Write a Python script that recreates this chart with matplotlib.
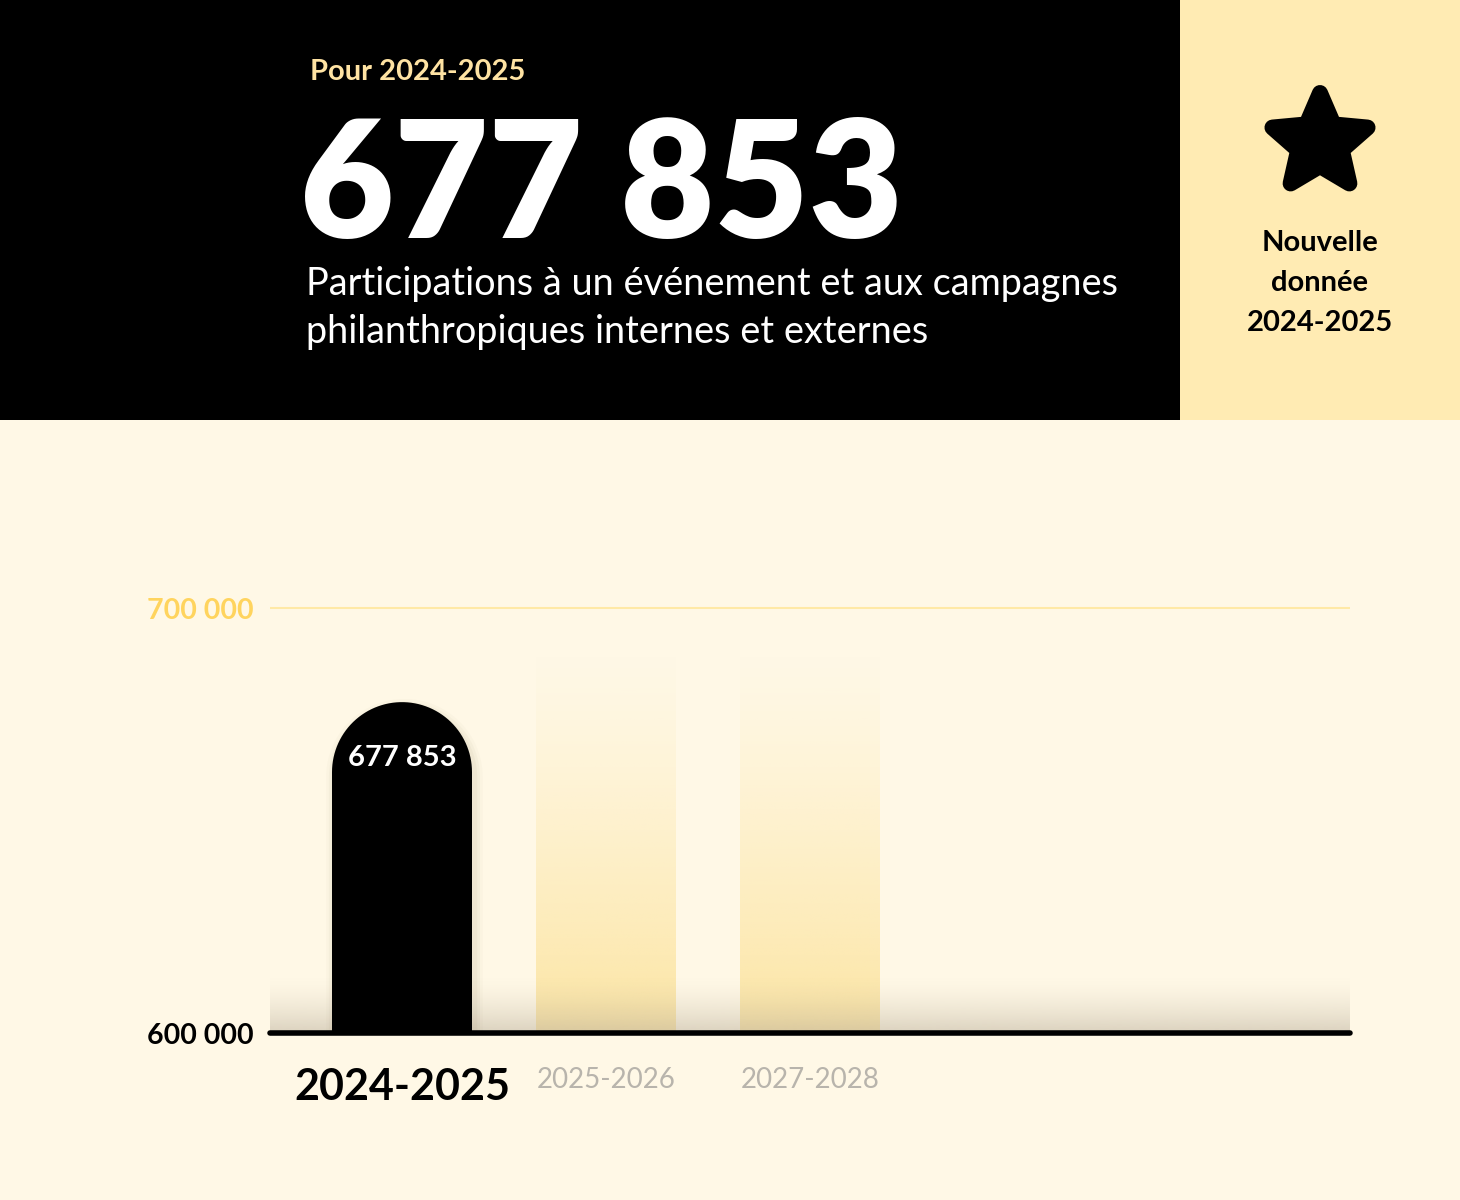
import numpy as np
import matplotlib.pyplot as plt
from matplotlib.patches import Rectangle, Polygon
from matplotlib.colors import to_rgb

# ── données ────────────────────────────────────────────────
periodes = ["2024-2025", "2025-2026", "2027-2028"]
participations = [677853, None, None]          # None = donnée à venir
graduations = [600000, 700000]
graduations_txt = ["600 000", "700 000"]
hauteur_fantome = 690000                       # hauteur des barres "à venir"

titre_annee = "Pour 2024-2025"
titre_valeur = "677 853"
sous_titre = ["Participations à un événement et aux campagnes",
              "philanthropiques internes et externes"]
badge = ["Nouvelle", "donnée", "2024-2025"]

# ── style ──────────────────────────────────────────────────
W, H = 1460, 1200
FOND = "#FFF8E6"
JAUNE_PANNEAU = "#FFEBB3"
JAUNE_TEXTE = "#FFE3A3"
JAUNE_AXE = "#FFD45E"
GRIS = "#B8B4AC"
plt.rcParams["font.family"] = ["Lato", "DejaVu Sans"]


def fx(px):
    return px / W


def fy(py):
    return 1 - py / H


fig = plt.figure(figsize=(W / 100, H / 100), dpi=100)
fig.patch.set_facecolor(FOND)

# ── bandeau du haut ────────────────────────────────────────
deco = fig.add_axes([0, 0, 1, 1], zorder=0)
deco.set_xlim(0, W)
deco.set_ylim(H, 0)
deco.axis("off")
deco.add_patch(Rectangle((0, 0), 1180, 420, color="black", lw=0))
deco.add_patch(Rectangle((1180, 0), W - 1180, 420, color=JAUNE_PANNEAU, lw=0))

# étoile arrondie
cx, cy, R, r = 1320, 143, 50, 23
ang = np.pi / 2 + np.arange(10) * np.pi / 5
rad = np.where(np.arange(10) % 2 == 0, R, r)
pts = np.column_stack([cx + rad * np.cos(ang), cy - rad * np.sin(ang)])
deco.add_patch(Polygon(pts, closed=True, facecolor="black", edgecolor="black",
                       lw=11.5, joinstyle="round"))

fig.text(fx(310), fy(72), titre_annee, color=JAUNE_TEXTE, fontsize=21,
         fontweight="bold", va="center", ha="left")
fig.text(fx(300), fy(238), titre_valeur, color="white", fontsize=117,
         fontweight=800, va="baseline", ha="left")
for i, ligne in enumerate(sous_titre):
    fig.text(fx(306), fy(295 + 48 * i), ligne, color="white", fontsize=27.3,
             va="baseline", ha="left")
for i, ligne in enumerate(badge):
    fig.text(fx(1320), fy(243 + 40 * i), ligne, color="black", fontsize=21,
             fontweight="bold", va="center", ha="center")

# ── graphique ──────────────────────────────────────────────
x0_px, x1_px, base_px, haut_px = 270, 1350, 1033, 440
pas_px = 204                         # écart entre deux barres
centre0_px = 402
px_par_unite_y = (1033 - 608) / (graduations[1] - graduations[0])

ax = fig.add_axes([fx(x0_px), fy(base_px), (x1_px - x0_px) / W,
                   (base_px - haut_px) / H], zorder=1)
ax.set_facecolor("none")
xmin = (x0_px - centre0_px) / pas_px
xmax = (x1_px - centre0_px) / pas_px
ymin = graduations[0]
ymax = graduations[0] + (base_px - haut_px) / px_par_unite_y
for s in ax.spines.values():
    s.set_visible(False)

largeur = 140 / pas_px
x = np.arange(len(periodes))

# barres "à venir" en dégradé
jaune = np.array(to_rgb("#FCE39C"))
n = 256
t = np.linspace(0, 1, n)[:, None]             # 0 = haut, 1 = bas
for xi, v in zip(x, participations):
    if v is not None:
        continue
    img = np.zeros((n, 1, 4))
    img[..., :3] = jaune
    img[..., 3] = 0.9 * t ** 1.3
    ax.imshow(img, extent=(xi - largeur / 2, xi + largeur / 2, ymin, hauteur_fantome),
              aspect="auto", interpolation="bilinear", zorder=2)

# ombre grise au pied du graphique
h_ombre = 58 / px_par_unite_y
img = np.zeros((n, 1, 4))
img[..., :3] = to_rgb("#BDB29E")
img[..., 3] = 0.55 * t ** 1.6
ax.imshow(img, extent=(xmin, xmax, ymin, ymin + h_ombre),
          aspect="auto", interpolation="bilinear", zorder=3)
ax.set_xlim(xmin, xmax)
ax.set_ylim(ymin, ymax)

# barre arrondie
rx = largeur / 2
ry = rx * pas_px / px_par_unite_y
for xi, v in zip(x, participations):
    if v is None:
        continue
    th = np.linspace(0, np.pi, 60)
    arc = np.column_stack([xi + rx * np.cos(th), v - ry + ry * np.sin(th)])
    contour = np.vstack([[xi + rx, ymin], arc, [xi - rx, ymin]])
    ombre = contour + np.array([0.012, -1200])
    for lw, a in [(12, 0.025), (8, 0.035), (4, 0.045)]:
        ax.add_patch(Polygon(ombre, closed=True, facecolor="none",
                             edgecolor="#6B5A30", lw=lw, alpha=a,
                             joinstyle="round", zorder=4))
    ax.add_patch(Polygon(contour, closed=True, facecolor="black",
                         edgecolor="none", zorder=5))
    ax.annotate(f"{v:,}".replace(",", " "), xy=(xi, v), xytext=(0, -40),
                textcoords="offset points", ha="center", va="center",
                color="white", fontsize=21, fontweight="bold", zorder=6)

# ligne de graduation et axe
ax.plot([xmin, xmax], [graduations[1]] * 2, color="#FFE9A6", lw=1.5, zorder=1)
ax.plot([xmin, xmax], [graduations[0]] * 2, color="black", lw=4,
        solid_capstyle="round", clip_on=False, zorder=7)

ax.set_yticks(graduations, graduations_txt)
ax.tick_params(axis="y", length=0, pad=12)
for lab, c in zip(ax.get_yticklabels(), ["black", JAUNE_AXE]):
    lab.set_color(c)
    lab.set_fontweight("bold")
    lab.set_fontsize(20.5)
ax.set_xticks([])

for xi, p, v in zip(x, periodes, participations):
    if v is not None:
        ax.annotate(p, xy=(xi, ymin), xytext=(0, -39), textcoords="offset points",
                    ha="center", va="center", fontsize=31, fontweight="bold",
                    color="black", annotation_clip=False)
    else:
        ax.annotate(p, xy=(xi, ymin), xytext=(0, -34), textcoords="offset points",
                    ha="center", va="center", fontsize=20, color=GRIS,
                    annotation_clip=False)

fig.savefig("out.png", dpi=100, facecolor=FOND)
